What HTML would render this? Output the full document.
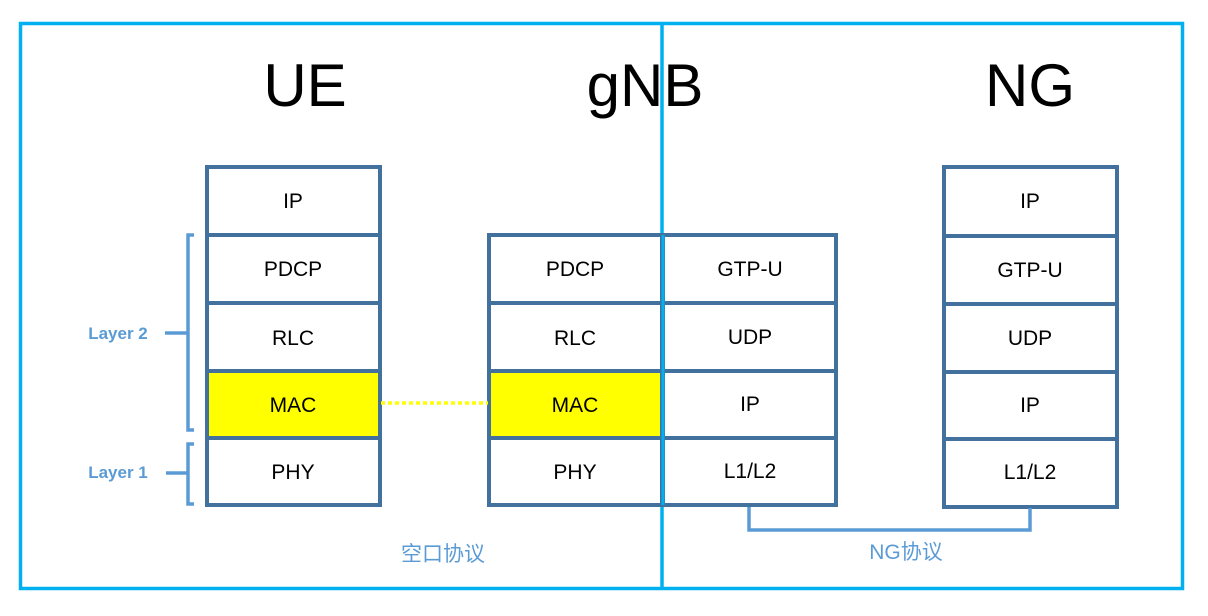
<!DOCTYPE html>
<html><head><meta charset="utf-8"><style>
html,body{margin:0;padding:0;background:#fff;}
svg{display:block;}
</style></head><body>
<svg width="1208" height="616" xmlns="http://www.w3.org/2000/svg" font-family="'Liberation Sans','Noto Sans CJK SC',sans-serif">
<rect x="0" y="0" width="1208" height="616" fill="#fff"/>
<rect x="20.5" y="23.5" width="1162" height="565" fill="none" stroke="#00b0f0" stroke-width="3.5"/>
<line x1="662" y1="22" x2="662" y2="590" stroke="#00b0f0" stroke-width="3.5"/>

<g font-size="60" fill="#000" text-anchor="middle">
<text x="305" y="106">UE</text>
<text x="645" y="106">gNB</text>
<text x="1030" y="106">NG</text>
</g>

<g stroke="#41719c" stroke-width="4" fill="#fff">
<rect x="207" y="167" width="173" height="68"/>
<rect x="207" y="235" width="173" height="68"/>
<rect x="207" y="303" width="173" height="68"/>
<rect x="207" y="371" width="173" height="67" fill="#ffff00"/>
<rect x="207" y="438" width="173" height="67"/>
<rect x="489" y="235" width="173" height="68"/>
<rect x="489" y="303" width="173" height="68"/>
<rect x="489" y="371" width="173" height="67" fill="#ffff00"/>
<rect x="489" y="438" width="173" height="67"/>
<rect x="663" y="235" width="173" height="68"/>
<rect x="663" y="303" width="173" height="68"/>
<rect x="663" y="371" width="173" height="67"/>
<rect x="663" y="438" width="173" height="67"/>
<rect x="944" y="167" width="173" height="69"/>
<rect x="944" y="236" width="173" height="68"/>
<rect x="944" y="304" width="173" height="68"/>
<rect x="944" y="372" width="173" height="67"/>
<rect x="944" y="439" width="173" height="68"/>
</g>
<line x1="663" y1="235" x2="663" y2="505" stroke="#00b0f0" stroke-width="3"/>

<g font-size="21" fill="#000" text-anchor="middle">
<text x="293" y="208">IP</text>
<text x="293" y="276">PDCP</text>
<text x="293" y="345">RLC</text>
<text x="293" y="412">MAC</text>
<text x="293" y="479">PHY</text>
<text x="575" y="276">PDCP</text>
<text x="575" y="345">RLC</text>
<text x="575" y="412">MAC</text>
<text x="575" y="479">PHY</text>
<text x="750" y="276">GTP-U</text>
<text x="750" y="344">UDP</text>
<text x="750" y="411">IP</text>
<text x="750" y="478">L1/L2</text>
<text x="1030" y="208">IP</text>
<text x="1030" y="277">GTP-U</text>
<text x="1030" y="345">UDP</text>
<text x="1030" y="412">IP</text>
<text x="1030" y="479">L1/L2</text>
</g>

<line x1="381" y1="403" x2="488" y2="403" stroke="#ffff00" stroke-width="3.5" stroke-dasharray="4,3"/>

<g stroke="#5b9bd5" stroke-width="3.5" fill="none">
<path d="M194 235 H188 V430 H194"/>
<line x1="165" y1="333" x2="188" y2="333"/>
<path d="M194 444 H188 V504 H194"/>
<line x1="166" y1="473" x2="188" y2="473"/>
<path d="M749 507 V530 H1030 V508"/>
</g>

<g font-size="17" fill="#5b9bd5" text-anchor="middle" font-weight="600">
<text x="118" y="339">Layer 2</text>
<text x="118" y="478">Layer 1</text>
</g>
<g font-size="21" fill="#5b9bd5" text-anchor="middle">
<text x="443" y="561">空口协议</text>
<text x="906" y="559">NG协议</text>
</g>
</svg>
</body></html>
